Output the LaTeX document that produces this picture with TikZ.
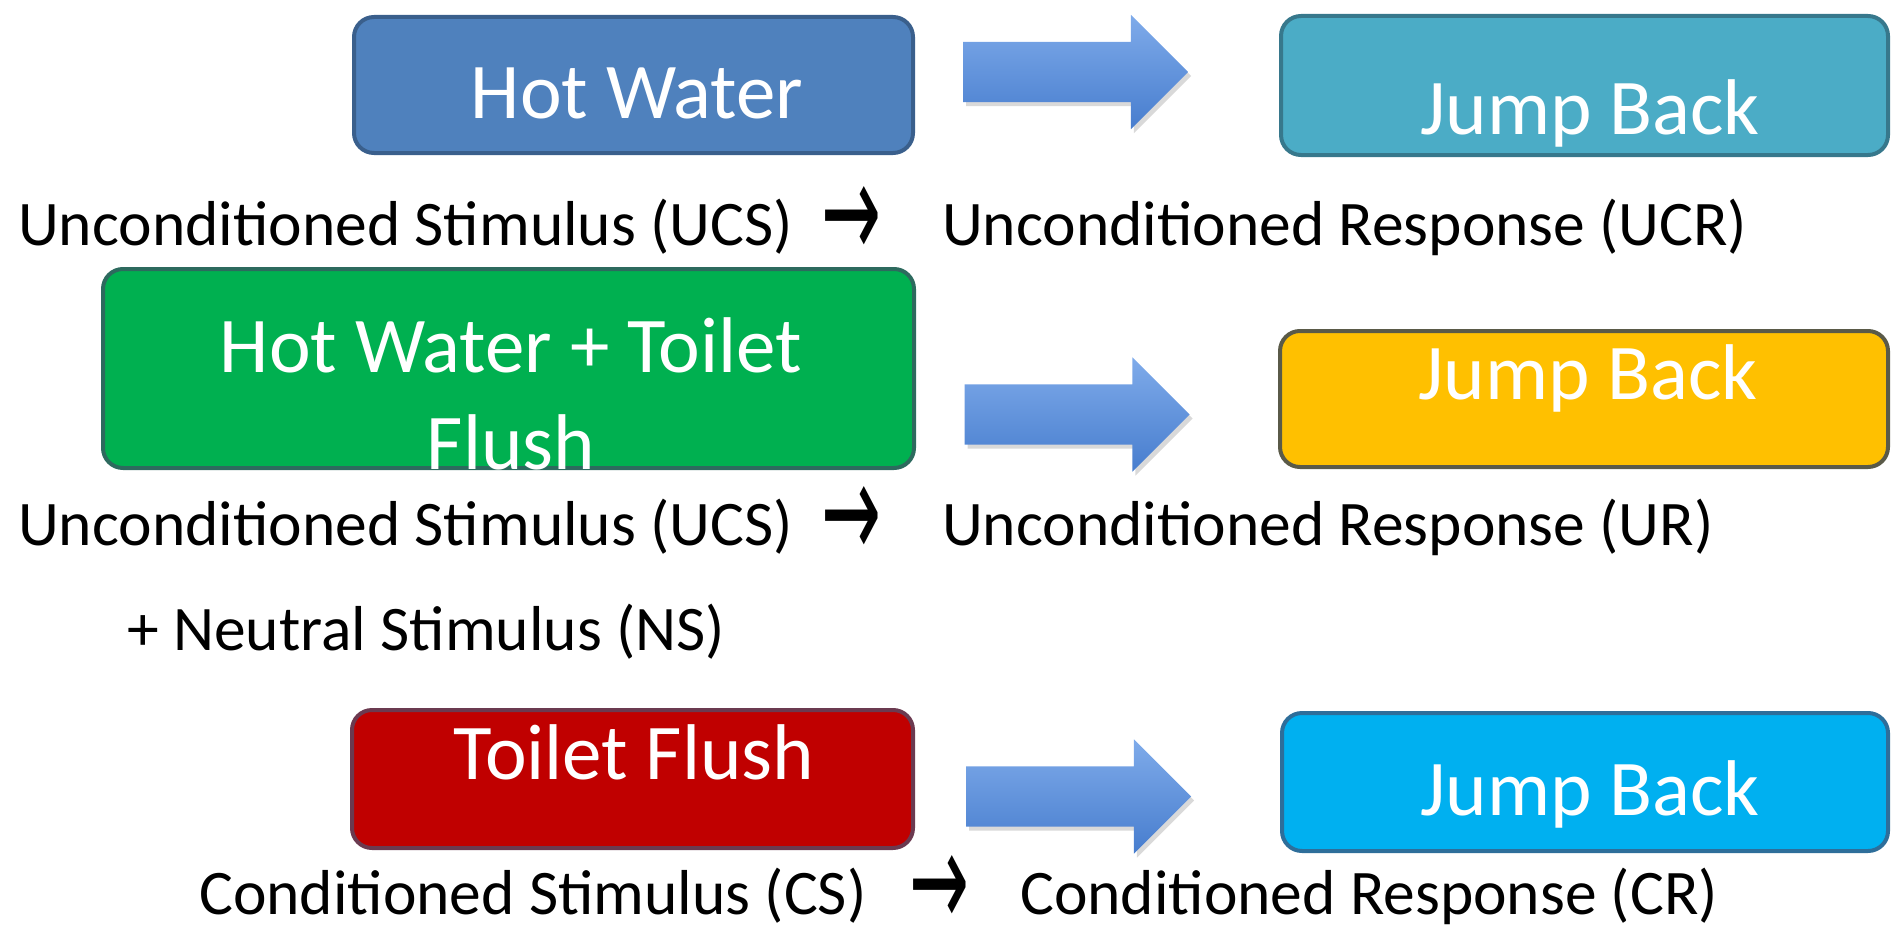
\documentclass[tikz,border=0pt]{standalone}
\usepackage{fontspec}
\setmainfont{Carlito}
\newfontfamily\signfont{DejaVu Sans}
\usepackage{tikz}
\usetikzlibrary{positioning,shapes.arrows,shadows}

\definecolor{hotblue}{HTML}{4F81BD}
\definecolor{hotblueline}{HTML}{3A5F8C}
\definecolor{aqua}{HTML}{4BACC6}
\definecolor{aqualine}{HTML}{37788C}
\definecolor{flushgreen}{HTML}{00B050}
\definecolor{flushgreenline}{HTML}{2D6A5E}
\definecolor{gold}{HTML}{FFC000}
\definecolor{goldline}{HTML}{5A5A48}
\definecolor{flushred}{HTML}{C00000}
\definecolor{flushredline}{HTML}{6B3A50}
\definecolor{sky}{HTML}{00B0F0}
\definecolor{skyline}{HTML}{2E6E9A}
\definecolor{arrowtop}{HTML}{7FABEA}
\definecolor{arrowbottom}{HTML}{477DCE}

\newcommand{\tosign}{\resizebox{60pt}{72pt}{\signfont →}}

\begin{document}
\begin{tikzpicture}[x=1pt,y=-1pt,
  every node/.style={inner sep=0pt},
  box/.style={draw, rounded corners=20pt, line width=4pt},
  boxtext/.style={anchor=base, text=white, align=center, font=\fontsize{79}{97}\selectfont},
  caption/.style={anchor=base west, font=\fontsize{63.5}{76}\selectfont},
  blockarrow/.style={single arrow, single arrow head extend=27pt, inner xsep=0pt, inner ysep=30pt,
    minimum height=225pt, top color=arrowtop, bottom color=arrowbottom,
    drop shadow={shadow xshift=3pt, shadow yshift=-4pt, opacity=0.3}}]
\useasboundingbox (0,0) rectangle (1894,931);

\node[box, fill=hotblue, draw=hotblueline, minimum width=559pt, minimum height=136pt] (hw) at (633.5,85) {};
\node[box, fill=aqua, draw=aqualine, minimum width=607pt, minimum height=139pt] (jb1) at (1584.5,85.5) {};
\node[box, fill=flushgreen, draw=flushgreenline, minimum width=811pt, minimum height=199pt] (hwtf) at (508.5,368.5) {};
\node[box, fill=gold, draw=goldline, minimum width=608pt, minimum height=136pt] (jb2) at (1584,399) {};
\node[box, fill=flushred, draw=flushredline, minimum width=561pt, minimum height=138pt] (tf) at (632.5,779) {};
\node[box, fill=sky, draw=skyline, minimum width=606pt, minimum height=138pt] (jb3) at (1585,782) {};

\node[boxtext] (hw-t) at (637,118) {Hot Water};
\node[boxtext] (jb1-t) at (1590,135) {Jump Back};
\node[boxtext] (hwtf-t) at (511,469) {Hot Water + Toilet\\Flush};
\node[boxtext] (jb2-t) at (1588,399) {Jump Back};
\node[boxtext] (tf-t) at (634,779) {Toilet Flush};
\node[boxtext] (jb3-t) at (1590,815) {Jump Back};

\node[blockarrow] (a1) at (1060.5,72) {};
\node[blockarrow] (a2) at (1062,414.5) {};
\node[blockarrow] (a3) at (1063.5,796.5) {};

\node[caption] (ucs1) at (18,245) {Unconditioned Stimulus (UCS)};
\node (to1) at (851,222) {\tosign};
\node[caption] (ucr1) at (942,245) {Unconditioned Response (UCR)};

\node[caption] (ucs2) at (18,545) {Unconditioned Stimulus (UCS)};
\node (to2) at (851,522) {\tosign};
\node[caption] (ur2) at (942,545) {Unconditioned Response (UR)};
\node[caption] (ns2) at (127,650) {+ Neutral Stimulus (NS)};

\node[caption] (cs3) at (199,914) {Conditioned Stimulus (CS)};
\node (to3) at (939,891) {\tosign};
\node[caption] (cr3) at (1020,914) {Conditioned Response (CR)};
\end{tikzpicture}
\end{document}
